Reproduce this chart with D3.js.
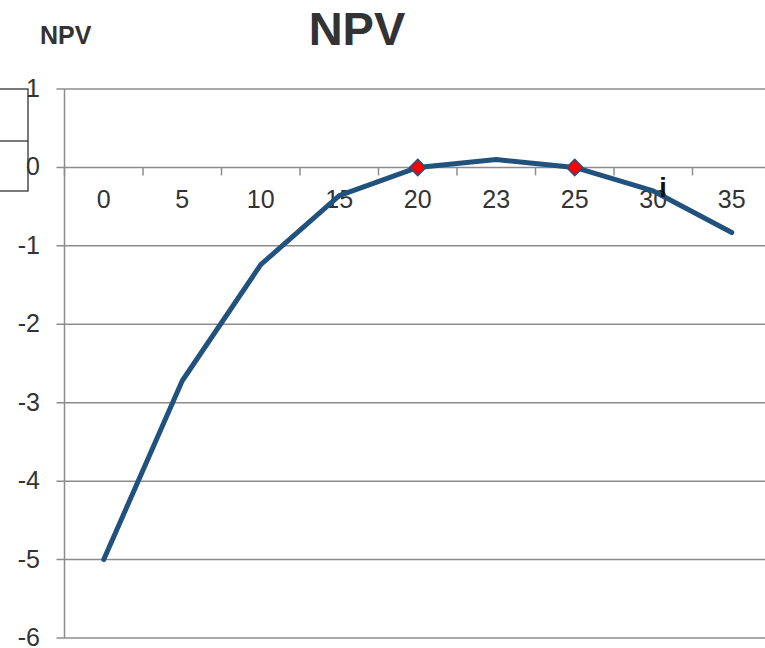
<!DOCTYPE html>
<html><head><meta charset="utf-8">
<script src="https://cdn.jsdelivr.net/npm/d3@7"></script>
<style>html,body{margin:0;padding:0;background:#fff;overflow:hidden}</style>
</head><body>
<svg id="c" width="765" height="648"></svg>
<script>
const categories = ["0","5","10","15","20","23","25","30","35"];
const npv = [-5, -2.72, -1.24, -0.36, 0, 0.1, 0, -0.3, -0.83];
const markedCategories = ["20","25"];
const yTicks = [1,0,-1,-2,-3,-4,-5,-6];

(function(){
const svg = d3.select("#c");
const font = "Liberation Sans, Arial, sans-serif";
const pLeft = 64.5, pRight = 771, pTop = 89, pBottom = 638;

const x = d3.scaleBand().domain(categories).range([pLeft, pRight]);
const y = d3.scaleLinear().domain([-6, 1]).range([pBottom, pTop]);

// gridlines
svg.append("g").selectAll("line").data(yTicks).join("line")
  .attr("x1", pLeft - 8).attr("x2", pRight)
  .attr("y1", d => y(d)).attr("y2", d => y(d))
  .attr("stroke", "#8c8c8c").attr("stroke-width", 1.5);

// y axis line
svg.append("line").attr("x1", pLeft).attr("x2", pLeft).attr("y1", pTop).attr("y2", pBottom)
  .attr("stroke", "#8c8c8c").attr("stroke-width", 1.5);

// x tick marks at y=0
const bounds = d3.range(categories.length + 1).map(i => pLeft + i * x.step());
svg.append("g").selectAll("line").data(bounds).join("line")
  .attr("x1", d => d).attr("x2", d => d)
  .attr("y1", y(0)).attr("y2", y(0) + 8)
  .attr("stroke", "#8c8c8c").attr("stroke-width", 1.5);

// left boxes
svg.append("rect").attr("x", -2).attr("y", y(1)).attr("width", 30).attr("height", 102)
  .attr("fill", "none").attr("stroke", "#222").attr("stroke-width", 1.2);
svg.append("line").attr("x1", 0).attr("x2", 28).attr("y1", 141).attr("y2", 141)
  .attr("stroke", "#222").attr("stroke-width", 1.2);

// y tick labels
svg.append("g").selectAll("text").data(yTicks).join("text")
  .attr("x", 40).attr("y", d => y(d) + 8)
  .attr("text-anchor", "end").attr("font-family", font).attr("font-size", 25)
  .attr("fill", "#333").text(d => d);

// x tick labels
svg.append("g").selectAll("text").data(categories).join("text")
  .attr("x", d => x(d) + x.bandwidth() / 2).attr("y", 208)
  .attr("text-anchor", "middle").attr("font-family", font).attr("font-size", 25)
  .attr("fill", "#333").text(d => d);

// line
const line = d3.line().x((d, i) => x(categories[i]) + x.bandwidth() / 2).y(d => y(d));
svg.append("path").datum(npv).attr("d", line)
  .attr("fill", "none").attr("stroke", "#21527d").attr("stroke-width", 5)
  .attr("stroke-linejoin", "round").attr("stroke-linecap", "round");

// markers
const marks = categories.map((c, i) => ({c, v: npv[i]})).filter(d => markedCategories.includes(d.c));
svg.append("g").selectAll("path").data(marks).join("path")
  .attr("transform", d => `translate(${x(d.c) + x.bandwidth() / 2},${y(d.v)})`)
  .attr("d", d3.symbol().type(d3.symbolDiamond2).size(170))
  .attr("fill", "#ff0000").attr("stroke", "#21527d").attr("stroke-width", 1.5);

// axis label i
svg.append("text").attr("x", 663).attr("y", 197).attr("text-anchor", "middle")
  .attr("font-family", font).attr("font-size", 27).attr("font-weight", "bold")
  .attr("fill", "#111").text("i");

// titles
svg.append("text").attr("x", 357).attr("y", 45).attr("text-anchor", "middle")
  .attr("font-family", font).attr("font-size", 47).attr("font-weight", "bold")
  .attr("fill", "#333").text("NPV");
svg.append("text").attr("x", 40).attr("y", 44)
  .attr("font-family", font).attr("font-size", 25).attr("font-weight", "bold")
  .attr("fill", "#333").text("NPV");
})();
</script>
</body></html>
